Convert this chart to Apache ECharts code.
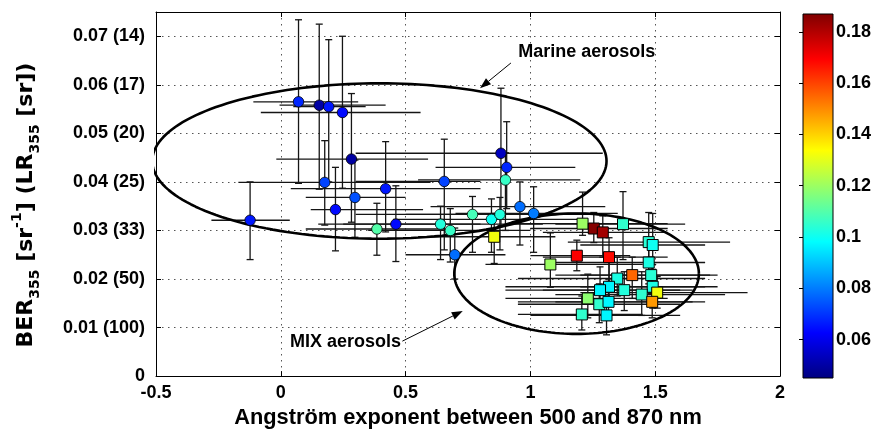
<!DOCTYPE html>
<html><head><meta charset="utf-8">
<script src="https://cdn.jsdelivr.net/npm/echarts@6/dist/echarts.min.js"></script>
<style>html,body{margin:0;padding:0;background:#fff}#c{width:875px;height:434px}</style>
</head><body><div id="c"></div>
<script>
// ---- Marine aerosols (circles) ----
const marineX   = [-0.123, 0.071, 0.154, 0.192, 0.247, 0.283, 0.176, 0.420, 0.297, 0.219, 0.385, 0.461, 0.655, 0.640, 0.679, 0.697, 0.882, 0.905, 0.900, 0.768, 0.844, 0.878, 0.958, 1.013];
const marineY   = [0.0321, 0.0565, 0.0558, 0.0555, 0.0543, 0.0447, 0.0399, 0.0386, 0.0368, 0.0343, 0.0303, 0.0313, 0.0401, 0.0313, 0.0300, 0.0250, 0.0459, 0.0430, 0.0404, 0.0333, 0.0323, 0.0333, 0.0349, 0.0335];
const marineC   = [0.066, 0.068, 0.050, 0.066, 0.064, 0.050, 0.072, 0.066, 0.074, 0.064, 0.110, 0.064, 0.072, 0.103, 0.106, 0.078, 0.054, 0.068, 0.106, 0.108, 0.100, 0.103, 0.078, 0.080];
const marineYLo = [0.0240, 0.0397, 0.0385, 0.0400, 0.0387, 0.0317, 0.0311, 0.0297, 0.0286, 0.0258, 0.0249, 0.0236, 0.0260, 0.0240, 0.0235, 0.0200, 0.0310, 0.0345, 0.0300, 0.0255, 0.0255, 0.0260, 0.0270, 0.0255];
const marineYHi = [0.0400, 0.0734, 0.0725, 0.0693, 0.0700, 0.0582, 0.0485, 0.0483, 0.0445, 0.0430, 0.0356, 0.0392, 0.0488, 0.0350, 0.0345, 0.0305, 0.0593, 0.0524, 0.0460, 0.0370, 0.0365, 0.0368, 0.0400, 0.0390];
const marineXLo = [-0.278, -0.110, -0.005, 0.050, -0.080, -0.018, -0.170, 0.040, 0.100, 0.120, 0.100, 0.150, 0.300, 0.250, 0.350, 0.500, 0.300, 0.620, 0.550, 0.300, 0.450, 0.500, 0.600, 0.700];
const marineXHi = [0.036, 0.310, 0.420, 0.340, 0.560, 0.590, 0.600, 0.800, 0.500, 0.570, 0.700, 0.800, 0.800, 1.050, 1.000, 0.900, 1.290, 1.180, 1.200, 1.100, 1.200, 1.250, 1.300, 1.350];

// ---- MIX aerosols (squares) ----
const mixX   = [0.855, 1.209, 1.254, 1.290, 1.371, 1.474, 1.490, 1.186, 1.315, 1.080, 1.474, 1.408, 1.484, 1.348, 1.315, 1.279, 1.376, 1.490, 1.446, 1.508, 1.230, 1.276, 1.313, 1.488, 1.206, 1.305];
const mixY   = [0.0287, 0.0314, 0.0304, 0.0296, 0.0313, 0.0276, 0.0270, 0.0248, 0.0245, 0.0230, 0.0234, 0.0208, 0.0208, 0.0201, 0.0184, 0.0177, 0.0177, 0.0184, 0.0168, 0.0172, 0.0160, 0.0148, 0.0153, 0.0153, 0.0127, 0.0125];
const mixC   = [0.132, 0.120, 0.186, 0.182, 0.105, 0.104, 0.100, 0.170, 0.168, 0.120, 0.102, 0.155, 0.104, 0.102, 0.097, 0.097, 0.103, 0.102, 0.105, 0.132, 0.118, 0.105, 0.097, 0.148, 0.105, 0.097];
const mixYLo = [0.0232, 0.0290, 0.0275, 0.0245, 0.0240, 0.0210, 0.0220, 0.0217, 0.0195, 0.0183, 0.0190, 0.0160, 0.0170, 0.0165, 0.0145, 0.0145, 0.0135, 0.0140, 0.0125, 0.0140, 0.0120, 0.0110, 0.0115, 0.0120, 0.0095, 0.0085];
const mixYHi = [0.0335, 0.0379, 0.0337, 0.0330, 0.0380, 0.0337, 0.0335, 0.0280, 0.0285, 0.0295, 0.0280, 0.0245, 0.0245, 0.0245, 0.0235, 0.0225, 0.0215, 0.0230, 0.0215, 0.0205, 0.0210, 0.0190, 0.0200, 0.0185, 0.0165, 0.0165];
const mixXLo = [0.550, 0.900, 1.000, 1.050, 1.100, 1.150, 1.200, 1.000, 1.050, 0.820, 1.100, 1.100, 1.200, 0.950, 0.900, 0.900, 1.050, 1.200, 1.100, 1.200, 0.900, 0.950, 0.950, 1.100, 0.950, 1.000];
const mixXHi = [1.100, 1.550, 1.550, 1.550, 1.620, 1.800, 1.700, 1.400, 1.550, 1.450, 1.700, 1.720, 1.750, 1.700, 1.700, 1.600, 1.650, 1.750, 1.780, 1.870, 1.550, 1.600, 1.650, 1.700, 1.450, 1.600];

// ---- Ellipses: [centerX, centerY, semiAxisX, semiAxisY] ----
const marineEllipse = [0.395, 0.0443, 0.910, 0.0160];
const mixEllipse    = [1.185, 0.0211, 0.490, 0.0124];

// ---- Axes / ticks ----
const xTickLabels = ['-0.5', '0', '0.5', '1', '1.5', '2'];
const yTickValues = [0, 0.01, 0.02, 0.03, 0.04, 0.05, 0.06, 0.07];
const yTickLabels = ['0', '0.01 (100)', '0.02 (50)', '0.03 (33)', '0.04 (25)', '0.05 (20)', '0.06 (17)', '0.07 (14)'];
const cbRange = [0.045, 0.187];
const cbTicks = [0.06, 0.08, 0.10, 0.12, 0.14, 0.16, 0.18];
const cbTickLabels = ['0.06', '0.08', '0.1', '0.12', '0.14', '0.16', '0.18'];

// ---- Annotations (data coords): text anchor, arrow tail, arrow head ----
const noteTexts  = ['Marine aerosols', 'MIX aerosols'];
const noteTextX  = [1.226, 0.482];
const noteTextY  = [0.0667, 0.0071];
const noteFromX  = [0.922, 0.487];
const noteFromY  = [0.0645, 0.0072];
const noteToX    = [0.798, 0.729];
const noteToY    = [0.0593, 0.0134];

const jet = ['#00007F', '#0000FF', '#007FFF', '#00FFFF', '#7FFF7F', '#FFFF00', '#FF7F00', '#FF0000', '#7F0000'];
const FONT = '"Liberation Sans", Arial, Helvetica, sans-serif';
const TFONT = '"DejaVu Sans", "Liberation Sans", Arial, sans-serif';

function ellipsePts(e) {
  const pts = [];
  for (let i = 0; i <= 180; i++) {
    const t = i / 180 * Math.PI * 2;
    pts.push([e[0] + e[2] * Math.cos(t), e[1] + e[3] * Math.sin(t)]);
  }
  return pts;
}
function errData(X, Y, YL, YH, XL, XH) {
  return X.map((x, i) => [x, Y[i], YL[i], YH[i], XL[i], XH[i]]);
}
function errRender(params, api) {
  const x = api.value(0), y = api.value(1);
  const c = api.coord([x, y]);
  const lo = api.coord([x, api.value(2)]);
  const hi = api.coord([x, api.value(3)]);
  const xl = api.coord([api.value(4), y]);
  const xh = api.coord([api.value(5), y]);
  const st = { stroke: '#151515', lineWidth: 1.3 };
  const cap = 3.5;
  return {
    type: 'group',
    children: [
      { type: 'line', shape: { x1: c[0], y1: lo[1], x2: c[0], y2: hi[1] }, style: st },
      { type: 'line', shape: { x1: c[0] - cap, y1: lo[1], x2: c[0] + cap, y2: lo[1] }, style: st },
      { type: 'line', shape: { x1: c[0] - cap, y1: hi[1], x2: c[0] + cap, y2: hi[1] }, style: st },
      { type: 'line', shape: { x1: xl[0], y1: c[1], x2: xh[0], y2: c[1] }, style: st }
    ]
  };
}
function noteRender(params, api) {
  const i = params.dataIndex;
  const t = api.coord([api.value(0), api.value(1)]);
  const f = api.coord([api.value(2), api.value(3)]);
  const e = api.coord([api.value(4), api.value(5)]);
  const dx = e[0] - f[0], dy = e[1] - f[1];
  const len = Math.sqrt(dx * dx + dy * dy);
  const ux = dx / len, uy = dy / len;
  const hl = 11, hw = 4;
  const bx = e[0] - ux * hl, by = e[1] - uy * hl;
  return {
    type: 'group',
    children: [
      { type: 'line', shape: { x1: f[0], y1: f[1], x2: bx, y2: by }, style: { stroke: '#000', lineWidth: 1 } },
      { type: 'polygon', shape: { points: [[e[0], e[1]], [bx - uy * hw, by + ux * hw], [bx + uy * hw, by - ux * hw]] }, style: { fill: '#000' } },
      { type: 'text', x: t[0], y: t[1], style: { text: noteTexts[i], fill: '#000', font: 'bold 18px ' + FONT, align: i === 0 ? 'center' : 'right', verticalAlign: 'middle' } }
    ]
  };
}

const chart = echarts.init(document.getElementById('c'), null, { renderer: 'canvas' });
const tickLbl = { color: '#000', fontFamily: FONT, fontWeight: 'bold', fontSize: 18 };
const gridLine = { show: true, lineStyle: { color: '#555', type: [1.5, 4.5], width: 1 } };

const option = {
  backgroundColor: '#fff',
  animation: false,
  grid: [
    { left: 156, right: 95, top: 12, bottom: 57, containLabel: false },
    { left: 803, width: 30, top: 14, height: 364, containLabel: false }
  ],
  xAxis: [
    {
      type: 'value', gridIndex: 0, min: -0.5, max: 2, interval: 0.5, position: 'bottom',
      name: 'Angström exponent between 500 and 870 nm', nameLocation: 'middle', nameGap: 21,
      nameTextStyle: { color: '#000', fontFamily: FONT, fontWeight: 'bold', fontSize: 21.8 },
      axisLine: { show: true, onZero: false, lineStyle: { color: '#000', width: 1 } },
      axisTick: { show: true, inside: true, length: 5, lineStyle: { color: '#000' } },
      axisLabel: Object.assign({ margin: 8, formatter: (v) => { const i = Math.round((v + 0.5) / 0.5); return xTickLabels[i] ?? ''; } }, tickLbl),
      splitLine: gridLine
    },
    {
      type: 'value', gridIndex: 0, min: -0.5, max: 2, interval: 0.5, position: 'top',
      axisLine: { show: true, onZero: false, lineStyle: { color: '#000', width: 1 } },
      axisTick: { show: true, inside: true, length: 5, lineStyle: { color: '#000' } },
      axisLabel: { show: false }, splitLine: { show: false }
    },
    { type: 'value', gridIndex: 1, min: 0, max: 1, show: false }
  ],
  yAxis: [
    {
      type: 'value', gridIndex: 0, min: 0, max: 0.075, interval: 0.01, position: 'left',
      name: '{b|BER}{s|355}{b| [sr}{p|-1}{b|] (LR}{s|355}{e| [sr])}',
      nameLocation: 'middle', nameGap: 114, nameRotate: 90,
      nameTextStyle: {
        color: '#000', fontFamily: TFONT, fontWeight: 'bold', fontSize: 22,
        rich: {
          b: { fontSize: 22, fontWeight: 'bold', fontFamily: TFONT, color: '#000', lineHeight: 32, verticalAlign: 'middle' },
          e: { fontSize: 22, fontWeight: 'bold', fontFamily: TFONT, color: '#000', lineHeight: 32, verticalAlign: 'middle', padding: [0, 22, 0, 0] },
          s: { fontSize: 14, fontWeight: 'bold', fontFamily: TFONT, color: '#000', lineHeight: 32, verticalAlign: 'bottom' },
          p: { fontSize: 14, fontWeight: 'bold', fontFamily: TFONT, color: '#000', lineHeight: 32, verticalAlign: 'top' }
        }
      },
      axisLine: { show: true, onZero: false, lineStyle: { color: '#000', width: 1 } },
      axisTick: { show: true, inside: true, length: 5, lineStyle: { color: '#000' } },
      axisLabel: Object.assign({ margin: 11, formatter: (v) => { const i = yTickValues.findIndex(t => Math.abs(t - v) < 1e-9); return i >= 0 ? yTickLabels[i] : ''; } }, tickLbl),
      splitLine: gridLine
    },
    {
      type: 'value', gridIndex: 0, min: 0, max: 0.075, interval: 0.01, position: 'right',
      axisLine: { show: true, onZero: false, lineStyle: { color: '#000', width: 1 } },
      axisTick: { show: true, inside: true, length: 5, lineStyle: { color: '#000' } },
      axisLabel: { show: false }, splitLine: { show: false }
    },
    {
      type: 'value', gridIndex: 1, min: cbRange[0], max: cbRange[1], position: 'right',
      axisLine: { show: false },
      axisTick: { show: true, inside: true, length: 4, customValues: cbTicks, lineStyle: { color: '#000' } },
      axisLabel: Object.assign({ margin: 3, customValues: cbTicks, formatter: (v) => { const i = cbTicks.findIndex(t => Math.abs(t - v) < 1e-9); return i >= 0 ? cbTickLabels[i] : ''; } }, tickLbl, { fontSize: 18 }),
      splitLine: { show: false }
    },
    {
      type: 'value', gridIndex: 1, min: cbRange[0], max: cbRange[1], position: 'left',
      axisLine: { show: false },
      axisTick: { show: true, inside: true, length: 4, customValues: cbTicks, lineStyle: { color: '#000' } },
      axisLabel: { show: false }, splitLine: { show: false }
    }
  ],
  visualMap: {
    type: 'continuous', show: false, min: cbRange[0], max: cbRange[1], dimension: 2,
    seriesIndex: [4, 5], inRange: { color: jet }
  },
  series: [
    {
      type: 'custom', name: 'marineErr', xAxisIndex: 0, yAxisIndex: 0, z: 2,
      renderItem: errRender, data: errData(marineX, marineY, marineYLo, marineYHi, marineXLo, marineXHi),
      encode: { x: 0, y: 1 }, clip: false
    },
    {
      type: 'custom', name: 'mixErr', xAxisIndex: 0, yAxisIndex: 0, z: 2,
      renderItem: errRender, data: errData(mixX, mixY, mixYLo, mixYHi, mixXLo, mixXHi),
      encode: { x: 0, y: 1 }, clip: false
    },
    {
      type: 'line', name: 'marineEllipse', xAxisIndex: 0, yAxisIndex: 0, z: 3, clip: false,
      data: ellipsePts(marineEllipse), showSymbol: false, symbol: 'none', smooth: false,
      lineStyle: { color: '#000', width: 2.6 }
    },
    {
      type: 'line', name: 'mixEllipse', xAxisIndex: 0, yAxisIndex: 0, z: 3, clip: false,
      data: ellipsePts(mixEllipse), showSymbol: false, symbol: 'none', smooth: false,
      lineStyle: { color: '#000', width: 2.6 }
    },
    {
      type: 'scatter', name: 'Marine', xAxisIndex: 0, yAxisIndex: 0, z: 5, symbol: 'circle', symbolSize: 10.5,
      data: marineX.map((x, i) => [x, marineY[i], marineC[i]]),
      itemStyle: { borderColor: '#000', borderWidth: 0.8, opacity: 1 }
    },
    {
      type: 'scatter', name: 'MIX', xAxisIndex: 0, yAxisIndex: 0, z: 5, symbol: 'rect', symbolSize: 11,
      data: mixX.map((x, i) => [x, mixY[i], mixC[i]]),
      itemStyle: { borderColor: '#000', borderWidth: 1, opacity: 1 }
    },
    {
      type: 'custom', name: 'notes', xAxisIndex: 0, yAxisIndex: 0, z: 6, silent: true, clip: false,
      renderItem: noteRender,
      data: noteTexts.map((t, i) => [noteTextX[i], noteTextY[i], noteFromX[i], noteFromY[i], noteToX[i], noteToY[i]])
    },
    {
      type: 'custom', name: 'colorbar', xAxisIndex: 2, yAxisIndex: 2, z: 1,
      data: [[0, cbRange[0], 1, cbRange[1]]],
      renderItem: function (params, api) {
        const p0 = api.coord([api.value(0), api.value(3)]);
        const p1 = api.coord([api.value(2), api.value(1)]);
        return {
          type: 'rect',
          shape: { x: p0[0], y: p0[1], width: p1[0] - p0[0], height: p1[1] - p0[1] },
          style: {
            fill: new echarts.graphic.LinearGradient(0, 1, 0, 0, jet.map((c, i) => ({ offset: i / (jet.length - 1), color: c }))),
            stroke: '#000', lineWidth: 1
          }
        };
      }
    }
  ]
};
chart.setOption(option);
</script>
</body></html>
